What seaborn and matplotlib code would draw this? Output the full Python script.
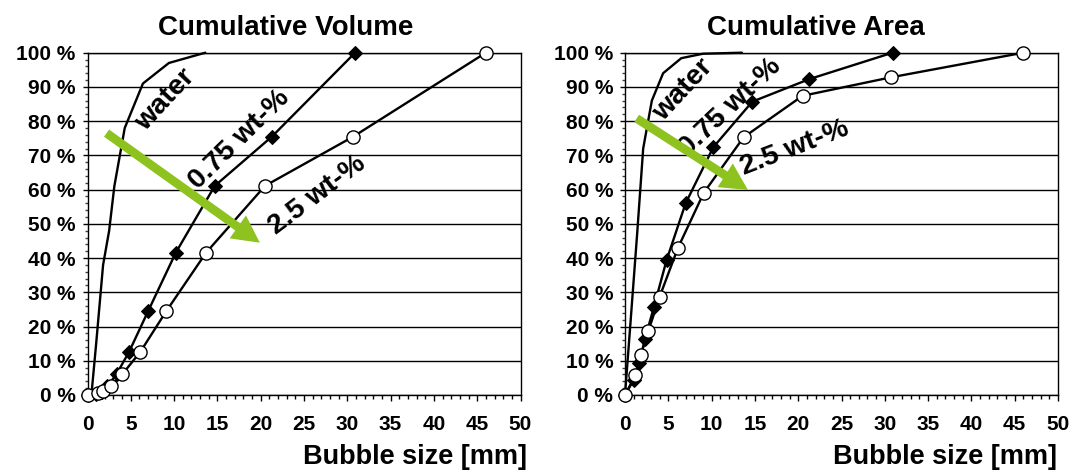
import numpy as np
import matplotlib
matplotlib.use("Agg")
import matplotlib.pyplot as plt
import seaborn as sns
from matplotlib.patches import FancyArrowPatch
from matplotlib.ticker import MultipleLocator, FuncFormatter

# ---------------- DATA ---------------- #

# size classes used for the 2.5 wt-% series (mm)
x_25 = [0, 1.2, 1.8, 2.7, 4.0, 6.1, 9.1, 13.7, 20.5, 30.7, 46.0]
vol_25 = [0, 0.5, 1.3, 2.7, 6.0, 12.6, 24.5, 41.6, 61.1, 75.5, 100]
area_25 = [0, 5.8, 11.6, 18.7, 28.7, 42.9, 59.1, 75.3, 87.4, 92.8, 100]

# size classes used for the 0.75 wt-% series (mm)
x_075 = [0, 1.0, 1.65, 2.3, 3.35, 4.8, 7.0, 10.2, 14.7, 21.3, 30.9]
vol_075 = [0, 0.4, 1.0, 2.5, 6.1, 12.6, 24.5, 41.6, 61.1, 75.5, 100]
area_075 = [0, 4.4, 9.3, 16.3, 25.8, 39.4, 56.0, 72.4, 85.7, 92.3, 100]

# water (line only)
x_water_vol = [0.45, 1.0, 1.8, 2.5, 3.1, 4.3, 6.4, 9.4, 13.6]
vol_water = [0, 15, 38, 48, 61, 78, 91, 97, 100]
x_water_area = [0, 0.6, 1.4, 2.1, 3.1, 4.4, 6.5, 9.0, 13.5]
area_water = [0, 20, 47, 72, 86, 94, 98.4, 99.7, 100]

titles = ["Cumulative Volume", "Cumulative Area"]

# ---------------- STYLE ---------------- #

sns.set_theme(style="white")
plt.rcParams["font.family"] = ["Liberation Sans", "DejaVu Sans"]
plt.rcParams["font.weight"] = "bold"
plt.rcParams["text.color"] = "black"
plt.rcParams["axes.labelcolor"] = "black"
plt.rcParams["xtick.color"] = "black"
plt.rcParams["ytick.color"] = "black"

green = "#8dc21f"

fig = plt.figure(figsize=(10.7, 4.72), dpi=100)
ax_vol = fig.add_axes([87.5 / 1070, 77 / 472, 433 / 1070, 342.3 / 472])
ax_area = fig.add_axes([625 / 1070, 77 / 472, 433 / 1070, 342.3 / 472])

panels = [
    (ax_vol, vol_075, vol_25, x_water_vol, vol_water),
    (ax_area, area_075, area_25, x_water_area, area_water),
]

for ax, y075, y25, xw, yw in panels:
    sns.lineplot(x=xw, y=yw, ax=ax, color="black", lw=1.7,
                 sort=False, estimator=None, clip_on=False)
    sns.lineplot(x=x_075, y=y075, ax=ax, color="black", lw=1.7,
                 marker="D", markersize=6.8, markerfacecolor="black",
                 markeredgecolor="black", sort=False, estimator=None,
                 clip_on=False, zorder=3)
    sns.lineplot(x=x_25, y=y25, ax=ax, color="black", lw=1.7,
                 marker="o", markersize=9.5, markerfacecolor="white",
                 markeredgecolor="black", markeredgewidth=1.0,
                 sort=False, estimator=None, clip_on=False, zorder=4)

    ax.set_xlim(0, 50)
    ax.set_ylim(0, 100)
    ax.xaxis.set_major_locator(MultipleLocator(5))
    ax.xaxis.set_minor_locator(MultipleLocator(1))
    ax.yaxis.set_major_locator(MultipleLocator(10))
    ax.yaxis.set_minor_locator(MultipleLocator(2))
    ax.yaxis.set_major_formatter(FuncFormatter(lambda v, p: f"{int(v)} %"))

    ax.tick_params(axis="x", which="major", direction="out", length=4.5,
                   width=1, color="black", labelcolor="black", pad=10,
                   labelsize=15, bottom=True, top=False)
    ax.tick_params(axis="x", which="minor", direction="out", length=3,
                   width=1, color="black", bottom=True, top=False)
    ax.tick_params(axis="y", which="major", direction="out", length=3.5,
                   width=1, color="black", labelcolor="black", pad=5,
                   labelsize=15, left=True, right=False)
    ax.tick_params(axis="y", which="minor", direction="out", length=2.5,
                   width=1, color="#444444", left=True, right=False)
    for lab in ax.get_xticklabels() + ax.get_yticklabels():
        lab.set_fontweight("bold")

    ax.grid(axis="y", which="major", color="black", lw=1)
    ax.grid(axis="x", visible=False)
    for sp in ax.spines.values():
        sp.set_color("black")
        sp.set_linewidth(1)
    ax.set_xlabel("")
    ax.set_ylabel("")

# ---------------- TEXTS ---------------- #

fig.text(286 / 1070, 1 - 28 / 472, titles[0], ha="center", va="center",
         fontsize=20, fontweight="bold", color="black")
fig.text(816 / 1070, 1 - 28 / 472, titles[1], ha="center", va="center",
         fontsize=20, fontweight="bold", color="black")
fig.text(527 / 1070, 1 - 457 / 472, "Bubble size [mm]", ha="right",
         va="center", fontsize=19.5, fontweight="bold", color="black")
fig.text(1057 / 1070, 1 - 457 / 472, "Bubble size [mm]", ha="right",
         va="center", fontsize=19.5, fontweight="bold", color="black")

labels_vol = [("water", 9.0, 86.2, 47), ("0.75 wt-%", 17.5, 74.6, 44.5),
              ("2.5 wt-%", 26.5, 58.5, 37)]
labels_area = [("water", 6.7, 89.2, 47), ("0.75 wt-%", 12.1, 84.2, 43.5),
               ("2.5 wt-%", 19.6, 72.2, 21)]

for ax, labels in [(ax_vol, labels_vol), (ax_area, labels_area)]:
    for txt, tx, ty, rot in labels:
        ax.text(tx, ty, txt, rotation=rot, rotation_mode="anchor",
                ha="center", va="center", fontsize=20.5, fontweight="bold",
                color="black", zorder=5)

# green arrows
arrows = [(ax_vol, (2.2, 76.5), (19.9, 44.5)),
          (ax_area, (1.35, 80.8), (14.2, 59.9))]
for ax, start, end in arrows:
    arr = FancyArrowPatch(start, end,
                          arrowstyle="simple,head_length=1.3,head_width=1.35,tail_width=0.42",
                          mutation_scale=15, color=green, lw=0,
                          shrinkA=0, shrinkB=0, zorder=6)
    ax.add_patch(arr)

fig.savefig("out.png", dpi=100)
